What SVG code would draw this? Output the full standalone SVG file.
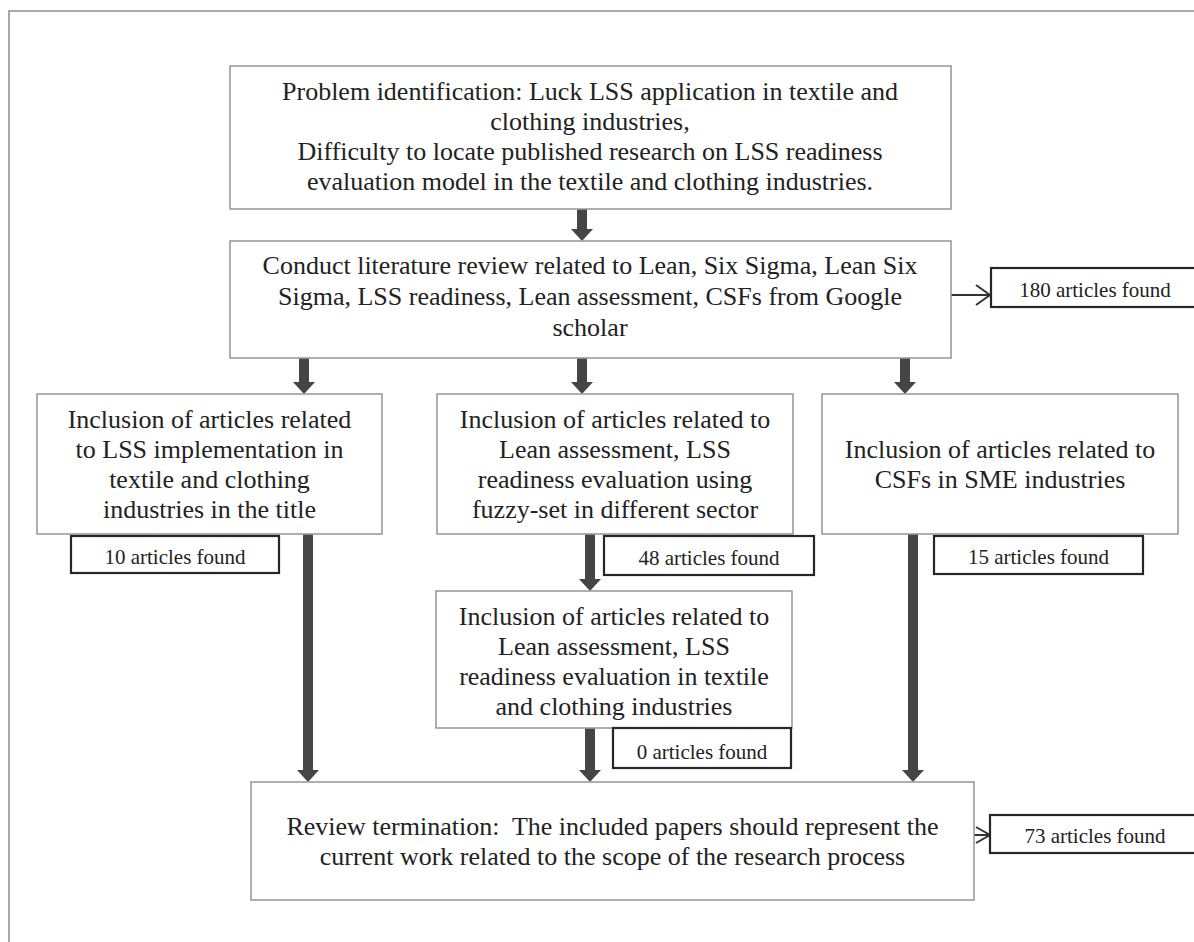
<svg xmlns="http://www.w3.org/2000/svg" width="1194" height="942" viewBox="0 0 1194 942">
<style>
  .frame { fill: none; stroke: #8c8c8c; stroke-width: 1.5; }
  .box { fill: #ffffff; stroke: #9c9c9c; stroke-width: 1.6; }
  .cnt { fill: #ffffff; stroke: #262626; stroke-width: 2.2; }
  .t { font-family: "Liberation Serif", "Times New Roman", serif; font-size: 26px; fill: #222222; text-anchor: middle; }
  .c { font-family: "Liberation Serif", "Times New Roman", serif; font-size: 21px; fill: #222222; text-anchor: middle; }
  .shaft { stroke: #454545; stroke-width: 10; fill: none; marker-end: url(#solid); }
  .thin { stroke: #333333; stroke-width: 2; fill: none; }
  .chev { stroke: #333333; stroke-width: 2; fill: none; stroke-linejoin: miter; }
</style>
<defs>
  <marker id="solid" markerUnits="userSpaceOnUse" viewBox="0 -11 12 22" refX="0" refY="0" markerWidth="12" markerHeight="22" orient="auto">
    <path d="M0,-11 L12,0 L0,11 Z" fill="#454545"/>
  </marker>
</defs>
<rect class="frame" x="9" y="11" width="1200" height="960"/>

<g id="connectors">
  <line class="shaft" x1="582" y1="209" x2="582" y2="229"/>
  <line class="shaft" x1="304" y1="358" x2="304" y2="382"/>
  <line class="shaft" x1="582" y1="358" x2="582" y2="382"/>
  <line class="shaft" x1="905" y1="358" x2="905" y2="382"/>
  <line class="shaft" x1="590" y1="534" x2="590" y2="579"/>
  <line class="shaft" x1="308" y1="534" x2="308" y2="770"/>
  <line class="shaft" x1="590" y1="728" x2="590" y2="770"/>
  <line class="shaft" x1="913" y1="534" x2="913" y2="770"/>
  <line class="thin" x1="951" y1="295" x2="989" y2="295"/>
  <path class="chev" d="M976,285 L990,295 L976,305"/>
  <line class="thin" x1="974" y1="835" x2="989" y2="835"/>
  <path class="chev" d="M976,827 L990,835 L976,843"/>
</g>

<g id="problem">
  <rect class="box" x="230" y="66" width="721" height="143"/>
  <text class="t" x="590" y="100">Problem identification: Luck LSS application in textile and</text>
  <text class="t" x="590" y="130">clothing industries,</text>
  <text class="t" x="590" y="160">Difficulty to locate published research on LSS readiness</text>
  <text class="t" x="590" y="190">evaluation model in the textile and clothing industries.</text>
</g>

<g id="review">
  <rect class="box" x="230" y="241" width="721" height="117"/>
  <text class="t" x="590" y="274">Conduct literature review related to Lean, Six Sigma, Lean Six</text>
  <text class="t" x="590" y="305">Sigma, LSS readiness, Lean assessment, CSFs from Google</text>
  <text class="t" x="590" y="336">scholar</text>
</g>

<g id="found180">
  <rect class="cnt" x="991" y="268" width="220" height="39"/>
  <text class="c" x="1095" y="297">180 articles found</text>
</g>

<g id="incl-lss">
  <rect class="box" x="37" y="394" width="345" height="140"/>
  <text class="t" x="209.5" y="428">Inclusion of articles related</text>
  <text class="t" x="209.5" y="458">to LSS implementation in</text>
  <text class="t" x="209.5" y="488">textile and clothing</text>
  <text class="t" x="209.5" y="518">industries in the title</text>
</g>

<g id="found10">
  <rect class="cnt" x="71" y="536" width="208" height="37"/>
  <text class="c" x="175" y="564">10 articles found</text>
</g>

<g id="incl-fuzzy">
  <rect class="box" x="437" y="394" width="356" height="140"/>
  <text class="t" x="615" y="428">Inclusion of articles related to</text>
  <text class="t" x="615" y="458">Lean assessment, LSS</text>
  <text class="t" x="615" y="488">readiness evaluation using</text>
  <text class="t" x="615" y="518">fuzzy-set in different sector</text>
</g>

<g id="found48">
  <rect class="cnt" x="604" y="536" width="210" height="39"/>
  <text class="c" x="709" y="565">48 articles found</text>
</g>

<g id="incl-csf">
  <rect class="box" x="822" y="394" width="356" height="140"/>
  <text class="t" x="1000" y="458">Inclusion of articles related to</text>
  <text class="t" x="1000" y="488">CSFs in SME industries</text>
</g>

<g id="found15">
  <rect class="cnt" x="934" y="536" width="209" height="38"/>
  <text class="c" x="1038.5" y="564">15 articles found</text>
</g>

<g id="incl-textile">
  <rect class="box" x="436" y="591" width="356" height="137"/>
  <text class="t" x="614" y="625">Inclusion of articles related to</text>
  <text class="t" x="614" y="655">Lean assessment, LSS</text>
  <text class="t" x="614" y="685">readiness evaluation in textile</text>
  <text class="t" x="614" y="715">and clothing industries</text>
</g>

<g id="found0">
  <rect class="cnt" x="613" y="728" width="178" height="40"/>
  <text class="c" x="702" y="759">0 articles found</text>
</g>

<g id="termination">
  <rect class="box" x="251" y="782" width="723" height="118"/>
  <text class="t" x="612.5" y="835" xml:space="preserve">Review termination:  The included papers should represent the</text>
  <text class="t" x="612.5" y="865">current work related to the scope of the research process</text>
</g>

<g id="found73">
  <rect class="cnt" x="990" y="815" width="220" height="38"/>
  <text class="c" x="1095" y="843">73 articles found</text>
</g>
</svg>
